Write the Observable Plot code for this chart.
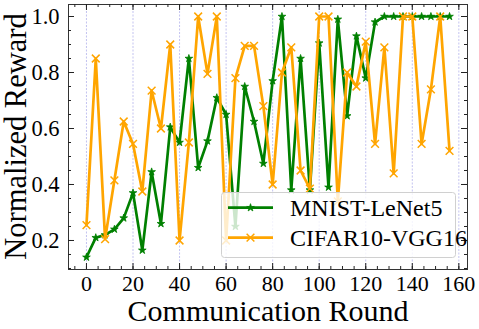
<!DOCTYPE html>
<html><head><meta charset="utf-8">
<script src="https://cdn.jsdelivr.net/npm/d3@7"></script>
<script src="https://cdn.jsdelivr.net/npm/@observablehq/plot@0.6"></script>
<style>
body{margin:0;background:#fff;}
#wrap{position:relative;width:479px;height:329px;}
</style></head><body><div id="wrap"></div>
<script>
// ---- data ----
const rounds = [0,4,8,12,16,20,24,28,32,36,40,44,48,52,56,60,64,68,72,76,80,84,88,92,96,100,104,108,112,116,120,124,128,132,136,140,144,148,152,156];
const mnist  = [0.14,0.21,0.22,0.24,0.28,0.37,0.165,0.445,0.26,0.605,0.55,0.85,0.46,0.555,0.71,0.65,0.25,0.75,0.625,0.475,0.77,1.0,0.38,0.85,0.38,0.905,0.39,0.99,0.645,0.93,0.78,0.98,1.0,1.0,1.0,1.0,1.0,1.0,1.0,1.0];
const cifar  = [0.255,0.85,0.205,0.415,0.625,0.545,0.375,0.735,0.60,0.90,0.20,0.55,1.0,0.795,1.0,0.20,0.78,0.895,0.895,0.68,0.40,0.80,0.89,0.45,0.385,1.0,1.0,0.34,0.80,0.75,0.91,0.545,0.89,0.44,1.0,1.0,0.545,0.74,1.0,0.52];
const seriesNames = ["MNIST-LeNet5","CIFAR10-VGG16"];
const seriesColors = ["#008000","#ffa500"];
const xMajorTicks = [0,20,40,60,80,100,120,140,160];
const xMinorTicks = [-5,0,5,10,15,20,25,30,35,40,45,50,55,60,65,70,75,80,85,90,95,100,105,110,115,120,125,130,135,140,145,150,155,160];
const yMajorTicks = [0.2,0.4,0.6,0.8,1.0];
const yMinorTicks = [0.1,0.15,0.2,0.25,0.3,0.35,0.4,0.45,0.5,0.55,0.6,0.65,0.7,0.75,0.8,0.85,0.9,0.95,1.0];
const xLabel = "Communication Round";
const yLabel = "Normalized Reward";

const green = rounds.map((r,i)=>({round:r, value:mnist[i]}));
const orange = rounds.map((r,i)=>({round:r, value:cifar[i]}));

const W=479,H=329,mL=68,mR=12,mT=4,mB=60;
const iw=W-mL-mR, ih=H-mT-mB;
const font = "'Liberation Serif','Times New Roman',serif";
const tickColor = "#222";

const chart = Plot.plot({
  width:W, height:H, marginLeft:mL, marginRight:mR, marginTop:mT, marginBottom:mB,
  style:{fontFamily:font, background:"#fff", color:"#000", overflow:"visible"},
  x:{domain:[-7.72,163.72]},
  y:{domain:[0.0964,1.0429]},
  marks:[
    Plot.ruleX(xMajorTicks,{x:d=>d, stroke:"#b4b4ec", strokeDasharray:"2,1.5", strokeWidth:0.8}),
    Plot.line(green,{x:"round", y:"value", stroke:seriesColors[0], strokeWidth:2.7}),
    Plot.dot(green,{x:"round", y:"value", symbol:"star", fill:seriesColors[0], stroke:seriesColors[0], strokeWidth:0.8, r:2.4}),
    Plot.line(orange,{x:"round", y:"value", stroke:seriesColors[1], strokeWidth:2.7}),
    Plot.dot(orange,{x:"round", y:"value", symbol:"times", stroke:seriesColors[1], strokeWidth:1.5, r:3.6}),
    Plot.frame({stroke:"#333", strokeWidth:1}),
    // inward ticks on all four sides
    Plot.tickX(xMajorTicks,{x:d=>d, insetTop:ih-6, stroke:tickColor}),
    Plot.tickX(xMajorTicks,{x:d=>d, insetBottom:ih-6, stroke:tickColor}),
    Plot.tickX(xMinorTicks,{x:d=>d, insetTop:ih-3, stroke:tickColor}),
    Plot.tickX(xMinorTicks,{x:d=>d, insetBottom:ih-3, stroke:tickColor}),
    Plot.tickY(yMajorTicks,{y:d=>d, insetRight:iw-6, stroke:tickColor}),
    Plot.tickY(yMajorTicks,{y:d=>d, insetLeft:iw-6, stroke:tickColor}),
    Plot.tickY(yMinorTicks,{y:d=>d, insetRight:iw-3, stroke:tickColor}),
    Plot.tickY(yMinorTicks,{y:d=>d, insetLeft:iw-3, stroke:tickColor}),
    Plot.axisX(xMajorTicks,{tickSize:0, tickPadding:6, fontSize:22, label:null, tickFormat:d=>String(d)}),
    Plot.axisY(yMajorTicks,{tickSize:0, tickPadding:9, fontSize:22.5, label:null, tickFormat:d=>d.toFixed(1)}),
    Plot.text([xLabel],{text:d=>d, frameAnchor:"bottom", dy:51, fontSize:30})
  ]
});
document.getElementById("wrap").appendChild(chart);

const svg = d3.select(chart);
// y-axis title (rotated)
svg.append("text").attr("transform","translate(25.5,136.5) rotate(-90)")
  .attr("text-anchor","middle").attr("font-family",font).attr("font-size",30.5).attr("fill","#000").text(yLabel);

// legend (inside the plot, upper layer with translucent background)
const lg = svg.append("g").attr("font-family", font).attr("text-anchor","start");
lg.append("rect").attr("x",221.5).attr("y",192.5).attr("width",234).attr("height",65).attr("rx",3)
  .attr("fill","#fff").attr("fill-opacity",0.8).attr("stroke","#d0d0d0").attr("stroke-width",1);
const rowsY = [207.7, 237.7];
seriesNames.forEach((name,i)=>{
  const y = rowsY[i];
  lg.append("line").attr("x1",228).attr("x2",273).attr("y1",y).attr("y2",y)
    .attr("stroke",seriesColors[i]).attr("stroke-width",2.7);
  const sym = i===0 ? d3.symbolStar : d3.symbolTimes;
  const size = i===0 ? Math.PI*2.4*2.4 : Math.PI*3.6*3.6;
  const p = lg.append("path").attr("d", d3.symbol(sym,size)()).attr("transform",`translate(250.5,${y})`);
  if(i===0) p.attr("fill",seriesColors[i]).attr("stroke",seriesColors[i]).attr("stroke-width",0.8);
  else p.attr("fill","none").attr("stroke",seriesColors[i]).attr("stroke-width",1.5);
  lg.append("text").attr("x",290).attr("y",y+8).attr("font-size",24).attr("fill","#000").text(name);
});
</script></body></html>
